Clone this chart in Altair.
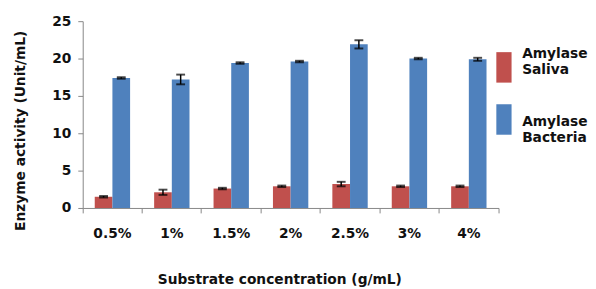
import altair as alt
import pandas as pd

categories = ["0.5%", "1%", "1.5%", "2%", "2.5%", "3%", "4%"]
series = ["Amylase Saliva", "Amylase Bacteria"]
saliva = [1.5, 2.1, 2.6, 2.9, 3.2, 2.9, 2.9]
saliva_err = [0.1, 0.35, 0.1, 0.1, 0.3, 0.1, 0.1]
bacteria = [17.4, 17.2, 19.4, 19.6, 21.9, 20.0, 19.9]
bacteria_err = [0.1, 0.65, 0.1, 0.1, 0.55, 0.1, 0.2]
y_ticks = [0, 5, 10, 15, 20, 25]
colors = ["#C0504D", "#4F81BD"]

rows = []
for i, c in enumerate(categories):
    rows.append(dict(cat=c, series=series[0], value=saliva[i], err=saliva_err[i]))
    rows.append(dict(cat=c, series=series[1], value=bacteria[i], err=bacteria_err[i]))
df = pd.DataFrame(rows)
df["lo"] = df["value"] - df["err"]
df["hi"] = df["value"] + df["err"]

FONT = "DejaVu Sans"
AX = "#868686"

x_axis = alt.Axis(
    title="Substrate concentration (g/mL)", labelAngle=0, bandPosition=1,
    tickExtra=True, tickSize=5, labelPadding=14, titlePadding=33, titleX=200,
    domainColor=AX, tickColor=AX,
)
y_axis = alt.Axis(
    title="Enzyme activity (Unit/mL)", values=y_ticks, grid=False,
    labelOverlap=False, labelFlush=False,
    tickSize=5, labelPadding=7, titlePadding=25, titleY=111,
    domainColor=AX, tickColor=AX,
)
x_scale = alt.Scale(paddingInner=0, paddingOuter=0)
y_scale = alt.Scale(domain=[0, 25])
xo_scale = alt.Scale(paddingOuter=0.68, paddingInner=0)


def xenc():
    return alt.X("cat:N", sort=categories, scale=x_scale, axis=x_axis)


def xoenc():
    return alt.XOffset("series:N", sort=series, scale=xo_scale)


def yenc(field):
    return alt.Y(field, type="quantitative", scale=y_scale, axis=y_axis)


color = alt.Color(
    "series:N", sort=series,
    scale=alt.Scale(domain=series, range=colors),
    legend=alt.Legend(
        title=None, orient="none", legendX=413, legendY=18, padding=0,
        symbolType="M-0.5,-0.13H0.5V1.87H-0.5Z", symbolSize=961, symbolStrokeWidth=0,
        labelOffset=3, rowPadding=8,
        labelExpr="datum.label == 'Amylase Saliva' ? ['Amylase','Saliva'] : ['\u00a0','Amylase','Bacteria']",
    ),
)

base = alt.Chart(df)
bars = base.mark_bar().encode(x=xenc(), xOffset=xoenc(), y=yenc("value"), color=color)
rule = base.mark_rule(color="black", strokeWidth=1.5).encode(
    x=xenc(), xOffset=xoenc(), y=yenc("lo"), y2="hi:Q")
cap_hi = base.mark_tick(color="black", size=9, thickness=2).encode(
    x=xenc(), xOffset=xoenc(), y=yenc("hi"))
cap_lo = base.mark_tick(color="black", size=9, thickness=2).encode(
    x=xenc(), xOffset=xoenc(), y=yenc("lo"))

chart = alt.layer(bars, rule, cap_hi, cap_lo).properties(
    width=423, height=190,
    padding={"left": 5, "top": 4, "right": 0, "bottom": 0},
).configure_view(stroke=None).configure_axis(
    labelFont=FONT, labelFontSize=14, labelFontWeight="bold", labelColor="#111",
    titleFont=FONT, titleFontSize=14, titleFontWeight="bold", titleColor="#111",
).configure_legend(
    labelFont=FONT, labelFontSize=14, labelFontWeight="bold", labelColor="#111",
)

chart.save("out.html", embed_options={"renderer": "svg", "actions": False})
